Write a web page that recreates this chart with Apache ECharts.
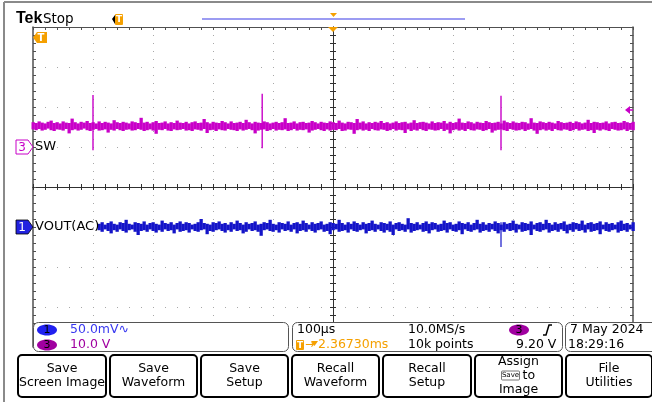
<!DOCTYPE html>
<html><head><meta charset="utf-8">
<script src="https://cdn.jsdelivr.net/npm/echarts@6/dist/echarts.min.js"></script>
<style>html,body{margin:0;padding:0;background:#fff}#c{width:652px;height:402px}</style>
</head><body><div id="c"></div>
<script>
// ---- Data ----
// Horizontal: 100 µs/div, 10 divisions, trigger at centre. Each displayed column = one min/max pair.
const sampleStepUs = 5;
// CH3 (SW), 10.0 V/div, ground marker at +1 div. Upper / lower edge of the noise band, volts.
const ch3ScaleV = 10.0;
const ch3GroundDiv = 1;
const ch3StartUs = -500;
const ch3HiV = [
6.2,6.0,6.4,6.1,5.9,6.3,6.6,6.0,6.2,5.9,
6.4,6.1,6.0,7.1,6.2,5.9,6.3,6.1,6.5,6.0,
6.2,5.9,6.4,6.0,6.3,6.1,5.9,6.7,6.2,6.0,
6.3,6.1,5.9,6.4,6.2,6.0,7.3,6.1,6.3,5.9,
6.2,6.5,6.0,6.1,6.4,5.9,6.2,6.0,6.6,6.1,
6.0,6.3,5.9,6.2,6.4,6.0,6.1,7.0,6.2,5.9,
6.3,6.1,6.0,6.5,6.2,5.9,6.4,6.0,6.1,6.3,
6.0,6.8,6.2,5.9,6.3,6.1,6.0,6.4,6.2,5.9,
6.1,6.3,6.0,6.2,7.2,6.0,6.1,6.4,5.9,6.2,
6.3,6.0,6.1,6.5,6.2,5.9,6.3,6.1,6.0,6.4,
6.2,6.0,6.6,6.1,5.9,6.3,6.2,6.0,7.0,6.1,
6.4,5.9,6.2,6.0,6.3,6.1,6.5,6.0,6.2,5.9,
6.1,6.4,6.0,6.2,6.3,5.9,6.1,6.7,6.0,6.2,
6.3,6.1,5.9,6.4,6.0,6.2,6.1,6.5,5.9,6.3,
6.0,6.2,7.1,6.1,6.0,6.4,6.2,5.9,6.3,6.1,
6.0,6.5,6.2,6.0,6.1,6.3,5.9,6.6,6.2,6.0,
6.4,6.1,6.0,6.3,6.2,5.9,7.2,6.1,6.0,6.4,
6.2,6.0,6.3,6.1,5.9,6.5,6.2,6.0,6.1,6.3,
6.0,6.4,6.2,5.9,6.1,6.8,6.0,6.3,6.2,6.0,
6.1,6.4,5.9,6.2,6.3,6.0,6.1,6.5,6.2,6.0,
6.3];
const ch3LoV = [
4.4,4.2,4.5,4.1,4.3,4.6,4.2,4.0,4.4,4.3,
4.1,4.5,3.4,4.2,4.4,4.1,4.3,4.6,4.2,4.0,
4.3,4.5,4.1,4.2,4.4,3.6,4.3,4.1,4.5,4.2,
4.0,4.3,4.4,4.1,4.2,4.5,4.3,4.0,4.2,4.4,
4.1,3.3,4.3,4.2,4.5,4.1,4.0,4.4,4.2,4.3,
4.5,4.1,4.2,4.0,4.4,4.3,4.1,4.5,3.5,4.2,
4.3,4.0,4.4,4.2,4.1,4.5,4.3,4.2,4.0,4.4,
4.1,4.3,4.5,4.2,3.4,4.1,4.3,4.4,4.0,4.2,
4.5,4.1,4.3,4.2,4.4,4.0,4.2,4.5,4.1,4.3,
4.2,4.4,3.6,4.1,4.3,4.5,4.2,4.0,4.4,4.1,
4.3,4.2,4.5,4.0,4.1,4.4,4.3,3.3,4.2,4.4,
4.1,4.3,4.0,4.5,4.2,4.1,4.4,4.3,4.0,4.2,
4.5,4.1,4.3,4.2,3.5,4.4,4.0,4.3,4.1,4.5,
4.2,4.0,4.4,4.3,4.1,4.2,4.5,4.0,4.3,3.4,
4.2,4.4,4.1,4.3,4.0,4.5,4.2,4.1,4.4,4.3,
4.0,4.2,4.5,3.6,4.1,4.3,4.4,4.2,4.0,4.5,
4.3,4.1,4.2,4.4,4.0,4.3,4.5,4.1,3.3,4.2,
4.4,4.1,4.3,4.0,4.5,4.2,4.1,4.4,4.3,4.0,
4.2,4.5,4.1,4.3,4.4,4.0,4.2,3.5,4.3,4.1,
4.4,4.2,4.0,4.5,4.3,4.1,4.2,4.4,4.0,4.3,
4.2];
// switching spikes on CH3: [time µs, peak V, dip V]
const ch3Spikes = [[-400, 13.0, -0.8], [-118, 13.3, -0.3], [280, 12.8, -0.8]];
// CH1 VOUT(AC), 50.0 mV/div, ground marker at -1 div. Upper / lower edge of the noise band, mV.
const ch1ScaleMv = 50.0;
const ch1GroundDiv = -1;
const ch1StartUs = -390;
const ch1HiMv = [
4,6,3,5,7,4,3,6,5,9,
4,3,6,5,4,7,3,5,6,4,
3,8,5,4,6,3,5,7,4,6,
5,3,4,6,10,5,4,3,6,5,
7,4,5,3,6,4,8,5,3,6,
4,5,7,3,4,6,5,9,4,3,
6,5,4,7,3,5,6,4,8,5,
3,6,4,5,7,3,4,6,5,4,
9,5,3,6,4,7,5,3,6,4,
5,8,4,3,6,5,4,7,3,5,
6,4,3,11,5,4,6,3,5,7,
4,6,5,3,4,8,5,6,3,4,
7,5,4,6,3,5,9,4,6,3,
5,4,7,5,3,6,4,5,8,4,
3,6,5,4,7,3,5,6,4,9,
5,3,6,4,5,7,3,4,6,5,
4,8,3,5,6,4,5,7,3,6,
4,5,3,6,8,4,5,3,6];
const ch1LoMv = [
-4,-6,-3,-5,-8,-4,-6,-3,-5,-7,
-4,-3,-6,-10,-5,-4,-6,-3,-5,-7,
-4,-6,-3,-5,-4,-8,-3,-6,-5,-4,
-7,-3,-5,-6,-4,-3,-9,-5,-6,-4,
-3,-5,-7,-4,-6,-3,-5,-4,-8,-6,
-3,-5,-4,-6,-11,-4,-3,-5,-6,-4,
-7,-3,-5,-4,-6,-3,-8,-5,-4,-6,
-3,-5,-7,-4,-3,-6,-5,-9,-4,-3,
-6,-5,-4,-7,-3,-5,-6,-4,-3,-8,
-5,-4,-6,-3,-5,-7,-4,-6,-10,-3,
-5,-4,-6,-3,-7,-5,-4,-3,-6,-5,
-8,-4,-3,-6,-5,-4,-7,-3,-5,-6,
-4,-9,-3,-5,-6,-4,-3,-7,-5,-4,
-6,-3,-5,-8,-4,-6,-3,-5,-4,-7,
-3,-6,-5,-4,-10,-3,-5,-6,-4,-3,
-7,-5,-4,-6,-3,-5,-8,-4,-6,-3,
-5,-4,-7,-3,-6,-5,-4,-9,-3,-5,
-6,-4,-3,-7,-5,-4,-6,-3,-5];
const ch1Spikes = [[280, 6, -25]];
const triggerLevelV = 9.20;
// axis extents
const timeMinUs = -500, timeMaxUs = 500, timeDivUs = 100;
const divMin = -4, divMax = 4;
// readout texts
const readCh1 = '50.0mV\u223F';
const readCh3 = '10.0 V';
const readTime = '100\u00B5s';
const readRate = '10.0MS/s';
const readPos = '2.36730ms';
const readPoints = '10k points';
const readTrig = '9.20 V';
const readDate = '7 May 2024';
const readClock = '18:29:16';
const buttonLabels = ['Save\nScreen Image','Save\nWaveform','Save\nSetup','Recall\nWaveform','Recall\nSetup','Assign\n\n Image','File\nUtilities'];

// ---- build ----
const MAG = '#c800c8', BLU = '#1414c8', ORG = '#f5a000', FONT = '"DejaVu Sans", Verdana, sans-serif';
const ch3Div = v => ch3GroundDiv + v/ch3ScaleV;
const ch1Div = v => ch1GroundDiv + v/ch1ScaleMv;
const cols = (hi, lo, start, toDiv) => hi.map((h,i)=>[start + i*sampleStepUs, toDiv(h), toDiv(lo[i])]);
const ch3Cols = cols(ch3HiV, ch3LoV, ch3StartUs, ch3Div);
const ch1Cols = cols(ch1HiMv, ch1LoMv, ch1StartUs, ch1Div);

function bandSeries(data, color){
  return {type:'custom', xAxisIndex:0, yAxisIndex:0, silent:true, data:data, encode:{x:0, y:[1,2]},
    renderItem:(params, api)=>{
      const t = api.value(0);
      const p1 = api.coord([t, api.value(1)]);
      const p2 = api.coord([t, api.value(2)]);
      const w = api.size([sampleStepUs, 0])[0];
      return {type:'rect', shape:{x:p1[0]-w/2, y:p1[1], width:w+0.3, height:p2[1]-p1[1]}, style:{fill:color}};
    }};
}

const chart = echarts.init(document.getElementById('c'));
const gridBox = {left:33, top:27, width:600, height:320, show:false};
const grids = [0,1,2,3].map(()=>Object.assign({}, gridBox));
const bx = {type:'value', min:timeMinUs, max:timeMaxUs, interval:timeDivUs, axisLabel:{show:false}, splitLine:{show:false}};
const by = {type:'value', min:divMin, max:divMax, interval:1, axisLabel:{show:false}, splitLine:{show:false}};
const tk = (inside,color)=>({axisTick:{show:true, inside:inside, length:3, lineStyle:{color:color,width:1}}, minorTick:{show:true, splitNumber:5, length:3, lineStyle:{color:color,width:1}}});
const A = (...o)=>Object.assign({}, ...o);
const DOT = '#a8a8a8', CEN = '#303030', BRD = '#505050';

const spikeSeries = [];
ch3Spikes.forEach(s=>spikeSeries.push({type:'line', xAxisIndex:0, yAxisIndex:0, silent:true, showSymbol:false,
  data:[[s[0], ch3Div(s[1])],[s[0], ch3Div(s[2])]], lineStyle:{color:MAG, width:1.4}}));
ch1Spikes.forEach(s=>spikeSeries.push({type:'line', xAxisIndex:0, yAxisIndex:0, silent:true, showSymbol:false,
  data:[[s[0], ch1Div(s[1])],[s[0], ch1Div(s[2])]], lineStyle:{color:BLU, width:1.2}}));

chart.setOption({
  animation:false,
  grid: grids,
  xAxis:[
    A(bx,{gridIndex:0, position:'bottom', axisLine:{onZero:true, lineStyle:{color:CEN}}}, tk(true,CEN), {splitLine:{show:true, lineStyle:{color:DOT, width:1, type:[1,7]}}}),
    A(bx,{gridIndex:1, position:'bottom', axisLine:{onZero:true, lineStyle:{color:CEN}}}, tk(false,CEN)),
    A(bx,{gridIndex:2, position:'top', axisLine:{onZero:false, lineStyle:{color:BRD}}}, tk(true,BRD)),
    A(bx,{gridIndex:3, position:'bottom', axisLine:{show:false, onZero:false}, axisTick:{show:false}})
  ],
  yAxis:[
    A(by,{gridIndex:0, position:'left', axisLine:{onZero:true, lineStyle:{color:CEN}}}, tk(true,CEN), {splitLine:{show:true, lineStyle:{color:DOT, width:1, type:[1,11]}}}),
    A(by,{gridIndex:1, position:'left', axisLine:{onZero:true, lineStyle:{color:CEN}}}, tk(false,CEN)),
    A(by,{gridIndex:2, position:'right', axisLine:{onZero:false, lineStyle:{color:BRD, width:1.5}}}, tk(true,BRD)),
    A(by,{gridIndex:3, position:'left', axisLine:{onZero:false, lineStyle:{color:BRD, width:1.5}}}, tk(true,BRD))
  ],
  series:[bandSeries(ch3Cols, MAG), bandSeries(ch1Cols, BLU)].concat(spikeSeries)
});

const px = (t,d)=>chart.convertToPixel({gridIndex:0},[t,d]);
const y3 = Math.round(px(0,ch3GroundDiv)[1]);
const y1 = Math.round(px(0,ch1GroundDiv)[1]);
const yT = Math.round(px(0,ch3Div(triggerLevelV))[1]);
const xC = Math.round(px(0,0)[0]);
const xR = Math.round(px(timeMaxUs,0)[0]);

const g = [];
const txt = (x,y,text,o)=>g.push({type:'text', z:100, style:A({x:x, y:y, text:text, font:'12.5px '+FONT, fill:'#000', textVerticalAlign:'middle', textAlign:'left'}, o||{})});
// frame
g.push({type:'line', z:100, shape:{x1:4,y1:2,x2:652,y2:2}, style:{stroke:'#8a8a8a', lineWidth:2}});
g.push({type:'line', z:100, shape:{x1:4,y1:2,x2:4,y2:402}, style:{stroke:'#8a8a8a', lineWidth:2}});
// Tek Stop
txt(16,19,'Tek',{font:'bold 16px "Liberation Sans", Arial, sans-serif'});
txt(43,19,'Stop',{font:'13.5px '+FONT});
// trigger position marker top
g.push({type:'polygon', z:100, shape:{points:[[112,19],[115,15],[115,24]]}, style:{fill:'#000'}});
g.push({type:'rect', z:100, shape:{x:115,y:14,width:8,height:11,r:1}, style:{fill:ORG}});
txt(119,19.5,'T',{font:'bold 9px '+FONT, fill:'#fff', textAlign:'center'});
// record bar
g.push({type:'line', z:100, shape:{x1:202,y1:19,x2:465,y2:19}, style:{stroke:'#9c9cf2', lineWidth:2}});
g.push({type:'polygon', z:100, shape:{points:[[330,13],[337,13],[333.5,17]]}, style:{fill:ORG}});
g.push({type:'polygon', z:100, shape:{points:[[xC-5,27],[xC+5,27],[xC,32]]}, style:{fill:ORG}});
// left trigger marker
g.push({type:'polygon', z:100, shape:{points:[[33,37.5],[37,32],[47,32],[47,43],[37,43]]}, style:{fill:ORG}});
txt(41,38,'T',{font:'bold 10px '+FONT, fill:'#fff', textAlign:'center'});
// channel markers
g.push({type:'polygon', z:100, shape:{points:[[16,y3-7],[28,y3-7],[33,y3],[28,y3+7],[16,y3+7]]}, style:{fill:'#fff', stroke:MAG, lineWidth:1}});
txt(22,y3+0.5,'3',{font:'12px '+FONT, fill:MAG, textAlign:'center'});
txt(35,y3,'SW',{font:'13px '+FONT});
g.push({type:'polygon', z:100, shape:{points:[[16,y1-7],[28,y1-7],[33,y1],[28,y1+7],[16,y1+7]]}, style:{fill:'#2222e0', stroke:'#000', lineWidth:0.8}});
txt(22,y1+0.5,'1',{font:'12px '+FONT, fill:'#fff', textAlign:'center'});
txt(35,y1,'VOUT(AC)',{font:'13px '+FONT});
// trigger level arrow
g.push({type:'polygon', z:100, shape:{points:[[xR-8,yT],[xR-3,yT-4],[xR-3,yT+4]]}, style:{fill:MAG}});
g.push({type:'line', z:100, shape:{x1:xR-3,y1:yT,x2:xR,y2:yT}, style:{stroke:MAG, lineWidth:1.5}});
// readout boxes
const box = (x,w)=>g.push({type:'rect', z:100, shape:{x:x,y:322.5,width:w,height:29,r:5}, style:{fill:'#fff', stroke:'#555', lineWidth:1}});
box(33.5,255); box(292.5,270); box(565.5,100);
g.push({type:'ellipse', z:100, shape:{cx:47,cy:330,rx:10,ry:5.5}, style:{fill:'#2020f0'}});
txt(47,330.5,'1',{font:'11px '+FONT, fill:'#000', textAlign:'center'});
g.push({type:'ellipse', z:100, shape:{cx:47,cy:345,rx:10,ry:5.5}, style:{fill:'#a000a0'}});
txt(47,345.5,'3',{font:'11px '+FONT, fill:'#000', textAlign:'center'});
txt(70,330,readCh1,{fill:'#3838f0'});
txt(70,345,readCh3,{fill:'#a000a0'});
txt(297,330,readTime);
txt(408,330,readRate);
g.push({type:'ellipse', z:100, shape:{cx:519,cy:330,rx:10,ry:5.5}, style:{fill:'#a000a0'}});
txt(519,330.5,'3',{font:'11px '+FONT, fill:'#000', textAlign:'center'});
g.push({type:'polyline', z:100, shape:{points:[[543,335],[546,335],[549,325],[552,325]]}, style:{stroke:'#000', lineWidth:1.5, fill:null}});
g.push({type:'rect', z:100, shape:{x:296,y:340,width:8,height:10,r:1}, style:{fill:ORG}});
txt(300,345.5,'T',{font:'bold 9px '+FONT, fill:'#fff', textAlign:'center'});
txt(305,345,'\u2192',{font:'11px '+FONT, fill:ORG});
g.push({type:'polygon', z:100, shape:{points:[[311,341],[318,341],[314.5,346]]}, style:{fill:ORG}});
txt(318,345,readPos,{fill:ORG});
txt(408,345,readPoints);
txt(516,345,readTrig);
txt(570,330,readDate);
txt(568,345,readClock);
// buttons
const bxs = [18,110,201,292,383,475,566];
bxs.forEach((x,i)=>{
  const w = (i<6 ? bxs[i+1]-4 : 652) - x;
  g.push({type:'rect', z:100, shape:{x:x,y:355,width:w,height:42,r:4}, style:{fill:'#fff', stroke:'#000', lineWidth:2}});
  const lines = buttonLabels[i].split('\n');
  const cx = x + w/2;
  if (lines.length===2){ txt(cx,369,lines[0],{textAlign:'center'}); txt(cx,383,lines[1],{textAlign:'center'}); }
  else {
    txt(cx,362,lines[0],{textAlign:'center'});
    txt(cx,390,lines[2].trim(),{textAlign:'center'});
    g.push({type:'rect', z:100, shape:{x:cx-17,y:371,width:18,height:9,r:1}, style:{fill:'#fff', stroke:'#555', lineWidth:0.8}});
    txt(cx-8,375.5,'Save',{font:'7px '+FONT, textAlign:'center'});
    txt(cx+4,376,'to',{});
  }
});
chart.setOption({graphic:{elements:g}});
</script></body></html>
